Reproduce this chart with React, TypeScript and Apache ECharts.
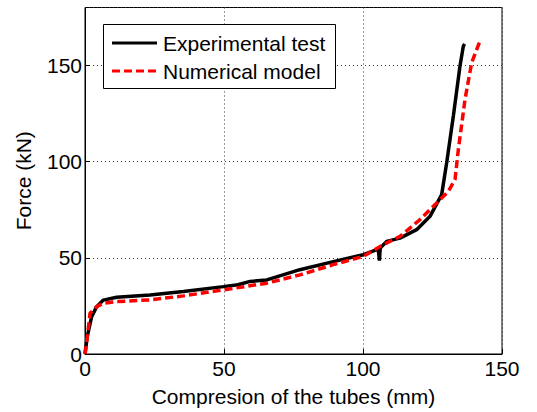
import React, { useEffect, useRef } from "react";
import * as echarts from "echarts";

const expX = [0, 0.8, 2.4, 4.2, 6.6, 11.4, 23.4, 35.4, 49.8, 55, 59.4, 65.4, 77.3, 89.3, 100.1, 105.5, 105.9, 106.2, 108.5, 113.3, 119.3, 124.1, 128.3, 130.1, 132.5, 134.9, 136.1, 136.6];
const expY = [0, 9, 19.4, 24.6, 28, 29.5, 30.7, 32.5, 35, 36, 37.7, 38.5, 43.8, 48, 51.6, 54.5, 48.5, 55, 58.5, 60.2, 64.6, 71.5, 82.8, 99.3, 123.6, 149.7, 160, 161];

const numX = [0, 1, 1.8, 4.2, 6.6, 11.4, 23.4, 35.4, 49.8, 65.4, 77.3, 89.3, 100.1, 107.3, 113.3, 120.5, 125.3, 130.7, 133.1, 134.3, 136.7, 139.1, 142.1];
const numY = [0, 10.8, 21.2, 24.6, 26.4, 27.2, 28.1, 30.2, 33.3, 36.8, 41.1, 46.4, 50.7, 56.8, 61.1, 69.8, 76.7, 84.5, 90.6, 106.3, 132.3, 151.4, 162.7];

const seriesNames = ["Experimental test", "Numerical model"];
const xTicks = [0, 50, 100, 150];
const yTicks = [0, 50, 100, 150];

const FONT = "'Liberation Sans', Arial, Helvetica, sans-serif";

export default function App() {
  const ref = useRef<HTMLDivElement>(null);
  useEffect(() => {
    if (!ref.current) return;
    const chart = echarts.init(ref.current, null, { renderer: "svg" });
    const toPairs = (xs: number[], ys: number[]) => xs.map((x, i) => [x, ys[i]]);
    chart.setOption({
      animation: false,
      backgroundColor: "#fff",
      textStyle: { fontFamily: FONT, color: "#000" },
      grid: {
        left: 85,
        right: 35,
        top: 7.5,
        bottom: 58,
        show: true,
        borderColor: "#000",
        borderWidth: 1,
        backgroundColor: "transparent",
      },
      graphic: [
        {
          type: "group",
          z: 100,
          children: [
            {
              type: "rect",
              shape: { x: 103.5, y: 24.5, width: 232, height: 64 },
              style: { fill: "#fff", stroke: "#000", lineWidth: 1 },
              z: 100,
            },
            {
              type: "line",
              shape: { x1: 112, y1: 43, x2: 157, y2: 43 },
              style: { stroke: "#000", lineWidth: 3 },
              z: 101,
            },
            {
              type: "line",
              shape: { x1: 112, y1: 71, x2: 157, y2: 71 },
              style: { stroke: "#ff0000", lineWidth: 3, lineDash: [8, 4] },
              z: 101,
            },
            {
              type: "text",
              x: 163,
              y: 43,
              style: {
                text: seriesNames[0],
                fontSize: 21,
                fontFamily: FONT,
                fill: "#000",
                verticalAlign: "middle",
                align: "left",
              },
              z: 101,
            },
            {
              type: "text",
              x: 163,
              y: 71,
              style: {
                text: seriesNames[1],
                fontSize: 21,
                fontFamily: FONT,
                fill: "#000",
                verticalAlign: "middle",
                align: "left",
              },
              z: 101,
            },
          ],
        },
      ],
      xAxis: {
        type: "value",
        min: 0,
        max: 150,
        interval: 50,
        name: "Compresion of the tubes (mm)",
        nameLocation: "middle",
        nameGap: 32,
        nameTextStyle: { fontSize: 21, fontFamily: FONT, color: "#000" },
        axisLine: { show: true, lineStyle: { color: "#000", width: 1 } },
        axisTick: { show: true, inside: true, length: 5, lineStyle: { color: "#000" } },
        axisLabel: {
          fontSize: 21,
          fontFamily: FONT,
          color: "#000",
          margin: 4,
          formatter: (v: number) => (xTicks.includes(v) ? String(v) : ""),
        },
        splitLine: { show: true, lineStyle: { type: [1, 3], color: "#333", width: 1 } },
      },
      yAxis: {
        type: "value",
        min: 0,
        max: 180,
        interval: 50,
        name: "Force (kN)",
        nameLocation: "middle",
        nameGap: 51,
        nameTextStyle: { fontSize: 21, fontFamily: FONT, color: "#000" },
        axisLine: { show: true, lineStyle: { color: "#000", width: 1 } },
        axisTick: { show: true, inside: true, length: 5, lineStyle: { color: "#000" } },
        axisLabel: {
          fontSize: 21,
          fontFamily: FONT,
          color: "#000",
          margin: 3,
          showMaxLabel: false,
          formatter: (v: number) => (yTicks.includes(v) ? String(v) : ""),
        },
        splitLine: { show: true, lineStyle: { type: [1, 3], color: "#333", width: 1 } },
      },
      series: [
        {
          name: seriesNames[0],
          type: "line",
          data: toPairs(expX, expY),
          symbol: "none",
          showSymbol: false,
          lineStyle: { color: "#000", width: 3.5 },
          itemStyle: { color: "#000" },
          z: 2,
        },
        {
          name: seriesNames[1],
          type: "line",
          data: toPairs(numX, numY),
          symbol: "none",
          showSymbol: false,
          lineStyle: { color: "#ff0000", width: 3.5, type: [8, 4] },
          itemStyle: { color: "#ff0000" },
          z: 3,
        },
      ],
    });
    return () => chart.dispose();
  }, []);
  return <div ref={ref} style={{ width: 537, height: 412, position: "absolute", left: 0, top: 0 }} />;
}
